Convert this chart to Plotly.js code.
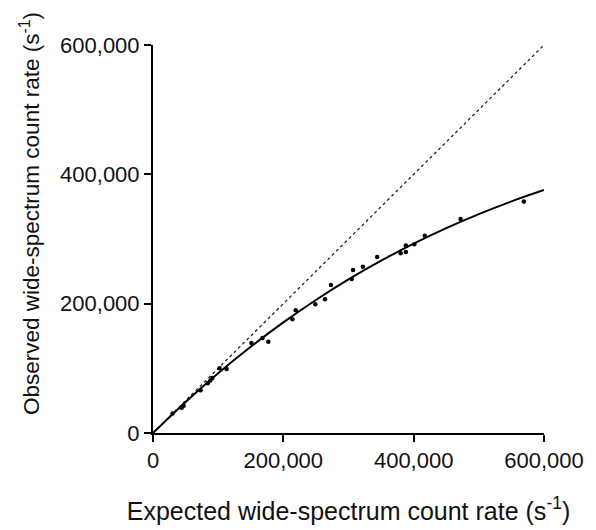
<!DOCTYPE html>
<html>
<head>
<meta charset="utf-8">
<script src="https://cdn.plot.ly/plotly-3.0.1.min.js"></script>
<style>html,body{margin:0;padding:0;background:#fff;}#chart{width:596px;height:530px;}</style>
</head>
<body>
<div id="chart"></div>
<script>
// Measured points (expected vs observed count rate, s^-1)
var expectedRate = [30000, 44000, 47000, 73000, 84000, 88000, 91000, 102000, 113000, 151000, 168000, 177000, 214000, 219000, 249000, 264000, 273000, 305000, 307000, 322000, 344000, 380000, 388000, 388000, 401000, 417000, 472000, 569000];
var observedRate = [30000, 39000, 42000, 66000, 77000, 81000, 85000, 100000, 99000, 139000, 147000, 141000, 176000, 190000, 199000, 207000, 229000, 238000, 252000, 257000, 272000, 278000, 280000, 290000, 292000, 305000, 331000, 358000];

// Fitted curve
var fitX = [0, 50000, 100000, 150000, 200000, 250000, 300000, 350000, 400000, 450000, 500000, 550000, 600000];
var fitY = [0, 48100, 92500, 133400, 171100, 205700, 237400, 266400, 292800, 316800, 338500, 358100, 375700];

// Line of identity
var idX = [0, 600000];
var idY = [0, 600000];

var tickVals = [0, 200000, 400000, 600000];
var tickText = ['0', '200,000', '400,000', '600,000'];

var xTitle = 'Expected wide-spectrum count rate (s<sup>-1</sup>)';
var yTitle = 'Observed wide-spectrum count rate (s<sup>-1</sup>)';

var font = 'Arial, "Liberation Sans", sans-serif';

var traces = [
  {x: idX, y: idY, mode: 'lines', line: {color: '#222', width: 1.3, dash: 'dot'}, hoverinfo: 'skip'},
  {x: fitX, y: fitY, mode: 'lines', line: {color: '#000', width: 2, shape: 'spline'}},
  {x: expectedRate, y: observedRate, mode: 'markers', marker: {color: '#000', size: 4.5}}
];

var layout = {
  width: 596, height: 530,
  margin: {l: 153, r: 52, t: 45, b: 97},
  showlegend: false,
  paper_bgcolor: '#fff', plot_bgcolor: '#fff',
  font: {family: font, size: 22, color: '#111'},
  xaxis: {
    range: [0, 600000], tickvals: tickVals, ticktext: tickText,
    showgrid: false, zeroline: false, showline: true, linecolor: '#000', linewidth: 2,
    ticks: 'outside', ticklen: 7, tickwidth: 2, tickcolor: '#000',
    tickfont: {family: font, size: 22},
    title: {text: xTitle, font: {family: font, size: 25}, standoff: 30}
  },
  yaxis: {
    range: [0, 600000], tickvals: tickVals, ticktext: tickText,
    showgrid: false, zeroline: false, showline: true, linecolor: '#000', linewidth: 2,
    ticks: 'outside', ticklen: 7, tickwidth: 2, tickcolor: '#000',
    tickfont: {family: font, size: 22}
  },
  annotations: [{
    text: yTitle, textangle: -90, showarrow: false,
    xref: 'paper', yref: 'paper', x: -0.3146, y: 0.567,
    xanchor: 'center', yanchor: 'middle',
    font: {family: font, size: 22.5, color: '#111'}
  }]
};

Plotly.newPlot('chart', traces, layout, {displayModeBar: false, staticPlot: true});
</script>
</body>
</html>
